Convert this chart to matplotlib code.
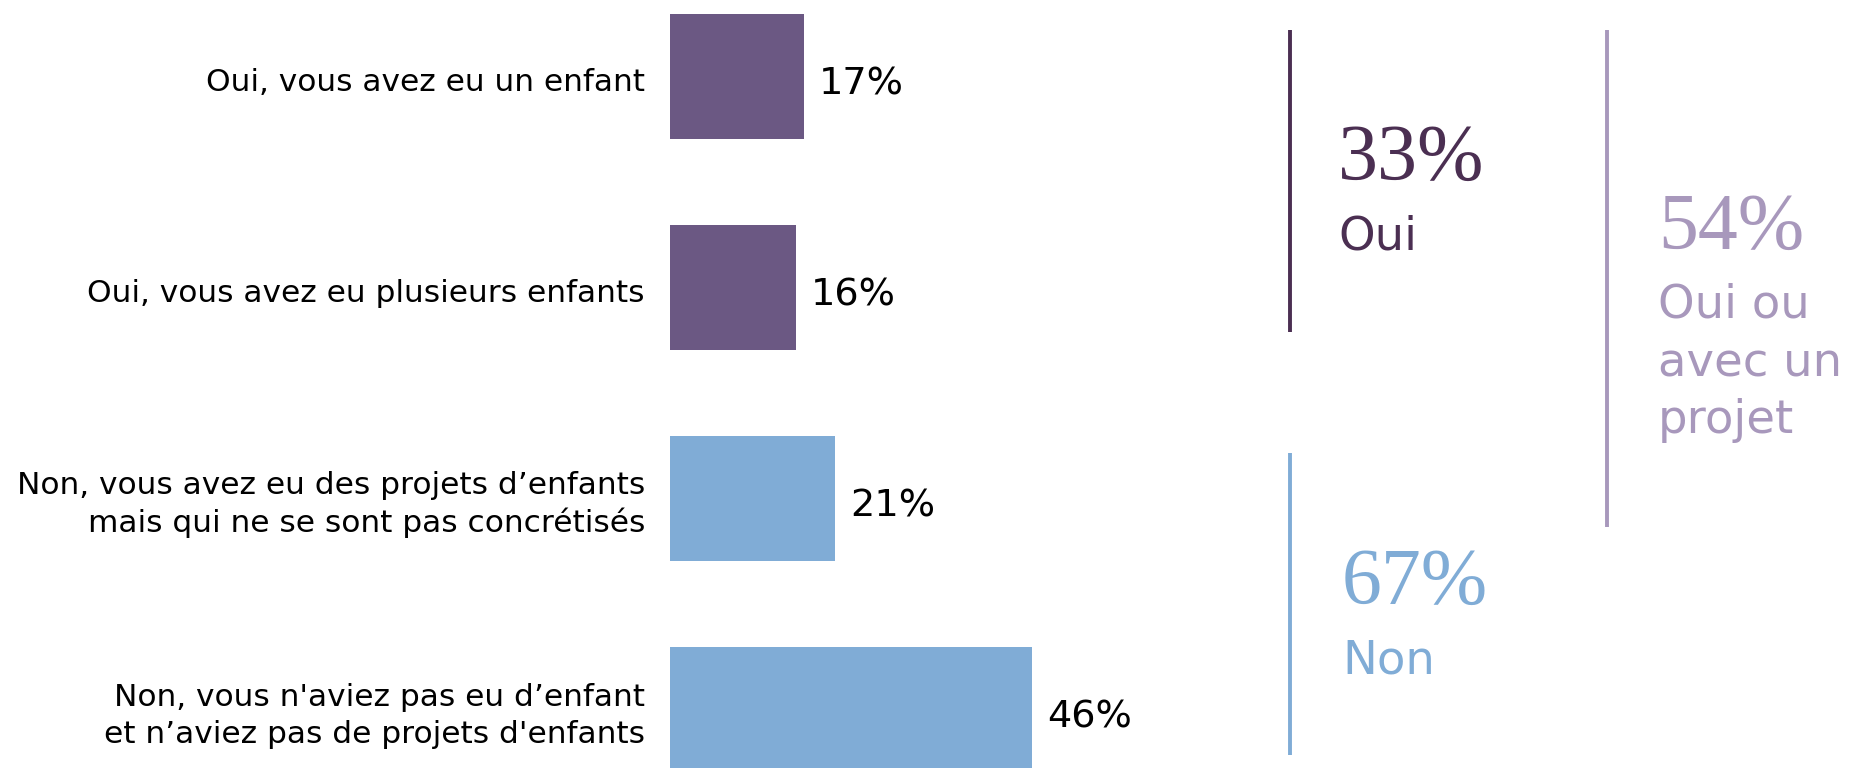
import matplotlib
matplotlib.use("Agg")
import matplotlib.pyplot as plt

# données
categories = [
    "Oui, vous avez eu un enfant",
    "Oui, vous avez eu plusieurs enfants",
    "Non, vous avez eu des projets d\u2019enfants\nmais qui ne se sont pas concrétisés",
    "Non, vous n'aviez pas eu d\u2019enfant\net n\u2019aviez pas de projets d'enfants",
]
values = [17, 16, 21, 46]
bar_colors = ["#6b5883", "#6b5883", "#80acd6", "#80acd6"]

# totaux à droite
totals = ["33%", "67%", "54%"]
total_labels = [["Oui"], ["Non"], ["Oui ou", "avec un", "projet"]]
total_colors = ["#4b2f52", "#80acd6", "#a898bc"]

W, H = 1852, 768
fig = plt.figure(figsize=(W / 100, H / 100), dpi=100)
ax = fig.add_axes([0, 0, 1, 1])

sans = ["DejaVu Sans"]
serif = ["Liberation Serif", "DejaVu Serif"]

ypos = list(range(len(values)))
ax.barh(ypos, values, height=0.59, color=bar_colors)

# 670 px = 0 %, 7.88 px par %
ax.set_xlim(-670 / 7.88, (W - 670) / 7.88)
ax.set_ylim((H - 76.5) / 211, -76.5 / 211)
ax.axis("off")

for y, v, lab in zip(ypos, values, categories):
    ax.text(v + 15 / 7.88, y + 0.04, f"{v}%", va="center", ha="left",
            fontsize=27.5, family=sans, color="black")
    ax.text(-25 / 7.88, y + 0.03, lab, va="center", ha="right",
            fontsize=22.5, family=sans, color="black", linespacing=1.32)

# lignes verticales
def px(x, y):
    return x / W, 1 - y / H

for (x0, y0, y1, c) in [(1290, 30, 332, total_colors[0]),
                        (1290, 453, 755, total_colors[1]),
                        (1607, 30, 527, total_colors[2])]:
    fig.add_artist(plt.Line2D([x0 / W, x0 / W], [1 - y0 / H, 1 - y1 / H],
                              color=c, lw=2.8, solid_capstyle="butt"))

# (x gauche, ligne de base du pourcentage, ligne de base du libellé)
spots = [(1338, 180, 249), (1342, 604, 673), (1658, 249, 318)]
for (x, yb, yl), t, lines, c in zip(spots, totals, total_labels, total_colors):
    fx, fy = px(x, yb)
    fig.text(fx, fy, t, ha="left", va="baseline", fontsize=57.5,
             family=serif, color=c)
    for i, line in enumerate(lines):
        fx, fy = px(x, yl + i * 57.5)
        fig.text(fx, fy, line, ha="left", va="baseline", fontsize=33.5,
                 family=sans, color=c)

fig.savefig("out.png", dpi=100)
